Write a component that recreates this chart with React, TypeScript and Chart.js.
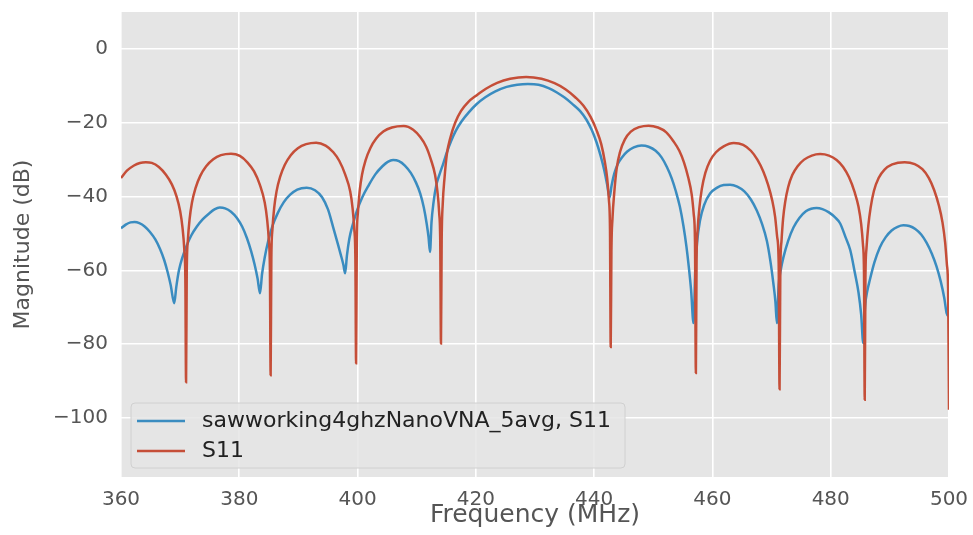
import React, { useEffect, useRef } from "react";
import { Chart, registerables } from "chart.js";

Chart.register(...registerables);

const xTicks = [360, 380, 400, 420, 440, 460, 480, 500];
const yTicks = [-100, -80, -60, -40, -20, 0];

const blueLabel = "sawworking4ghzNanoVNA_5avg, S11";
const redLabel = "S11";

// measured trace (blue)
const blueFreq = [
  360.0, 360.8, 361.6, 362.3, 363.1, 364.0, 364.9, 365.8, 366.6, 367.3, 367.9, 368.4, 369.0,
  369.35, 369.8, 370.4, 371.1, 371.9, 372.8, 373.8, 374.9, 375.8, 376.7, 377.6, 378.6, 379.6, 380.5, 381.3, 382.0, 382.6, 383.1, 383.5,
  383.85, 384.3, 384.9, 385.6, 386.5, 387.5, 388.6, 389.8, 391.4, 392.8, 394.0, 395.0, 395.9, 396.6, 397.2, 397.6, 397.9,
  398.2, 398.6, 399.2, 399.9, 400.8, 401.9, 403.0, 404.2, 405.1, 406.0, 407.0, 408.0, 409.0, 409.9, 410.6, 411.2, 411.7, 412.0, 412.25,
  412.5, 412.85, 413.3, 413.9, 414.5, 415.1, 415.8, 416.6, 417.6, 418.8, 420.1, 421.6, 423.3, 425.2, 427.0, 428.8, 430.6, 432.3, 433.7, 435.0, 436.3, 437.6, 438.7, 439.6, 440.4, 441.1, 441.7, 442.2, 442.6,
  442.95, 443.4, 444.0, 444.7, 445.6, 446.7, 448.0, 449.2, 450.4, 451.4, 452.3, 453.1, 453.8, 454.5, 455.1, 455.6, 456.0, 456.4, 456.8,
  457.1, 457.4, 457.9, 458.6, 459.6, 460.8, 461.9, 463.0, 464.2, 465.4, 466.5, 467.5, 468.4, 469.2, 469.8, 470.3, 470.65, 470.9,
  471.2, 471.6, 472.0, 472.8, 473.7, 474.7, 475.8, 476.7, 477.6, 478.6, 479.7, 480.7, 481.6, 482.5, 483.3, 484.1, 484.7, 485.15, 485.5,
  485.8, 486.2, 486.6, 487.4, 488.3, 489.3, 490.3, 491.3, 492.3, 493.3, 494.3, 495.3, 496.2, 497.1, 497.9, 498.6, 499.2, 499.6, 500.0,
];
const blueMag = [
  -48.6, -47.6, -47.0, -46.9, -47.2, -48.1, -49.6, -51.6, -54.2, -57.2, -60.6, -64.0, -68.9,
  -64.5, -60.0, -56.4, -53.3, -50.5, -48.2, -46.2, -44.6, -43.5, -43.0, -43.2, -44.1, -45.8, -48.2, -51.3, -54.8, -58.5, -62.3, -66.2,
  -61.0, -56.5, -52.0, -48.0, -44.5, -41.6, -39.5, -38.1, -37.6, -38.3, -40.2, -43.5, -48.5, -52.5, -56.0, -58.5, -60.8,
  -56.0, -51.5, -47.5, -43.8, -40.2, -36.9, -34.0, -31.8, -30.6, -30.1, -30.4, -31.6, -33.6, -36.3, -39.2, -43.0, -47.5, -51.0, -55.0,
  -47.0, -41.5, -37.0, -33.8, -31.0, -28.0, -25.0, -22.2, -19.6, -17.2, -15.0, -13.1, -11.5, -10.3, -9.7, -9.5, -9.7, -10.6, -11.8, -13.2, -14.9, -16.8, -19.2, -22.0, -25.3, -29.0, -32.8, -36.8, -40.3,
  -37.0, -33.8, -31.2, -29.4, -27.8, -26.7, -26.2, -26.5, -27.6, -29.4, -32.0, -35.0, -38.5, -42.8, -48.0, -53.5, -59.0, -65.5, -74.3,
  -60.0, -52.5, -46.5, -42.3, -39.2, -37.6, -36.9, -36.8, -37.3, -38.6, -40.8, -43.8, -47.5, -52.0, -57.5, -63.5, -68.5, -74.3,
  -64.0, -59.5, -56.5, -52.0, -48.4, -45.8, -44.0, -43.3, -43.1, -43.4, -44.3, -45.6, -47.3, -51.0, -54.5, -60.8, -66.0, -72.0, -79.7,
  -70.0, -65.5, -62.7, -57.8, -53.8, -51.0, -49.2, -48.2, -47.8, -48.0, -48.8, -50.3, -52.5, -55.5, -59.0, -63.0, -67.5, -71.6, -72.5,
];

// simulated trace (red)
const redFreq = [
  360.0, 361.0, 362.2, 363.2, 364.2, 365.2, 366.4, 367.6, 368.6, 369.4, 370.0, 370.4, 370.7, 370.88, 371.0,
  371.12, 371.3, 371.6, 372.0, 372.6, 373.4, 374.4, 375.6, 376.9, 378.6, 380.1, 381.4, 382.5, 383.5, 384.3, 384.7, 385.0, 385.18, 385.3,
  385.42, 385.6, 385.9, 386.3, 386.9, 387.7, 388.7, 389.9, 391.3, 393.0, 394.6, 395.9, 396.9, 397.9, 398.75, 399.15, 399.45, 399.63, 399.75,
  399.87, 400.05, 400.35, 400.75, 401.35, 402.15, 403.15, 404.35, 405.8, 407.8, 409.4, 410.6, 411.6, 412.4, 413.1, 413.5, 413.8, 413.98, 414.1,
  414.22, 414.4, 414.7, 415.1, 415.7, 416.5, 417.5, 418.7, 420.1, 421.7, 423.6, 425.8, 428.5, 431.1, 433.3, 435.2, 436.8, 438.2, 439.4, 440.4, 441.2, 441.8, 442.2, 442.5, 442.68, 442.8,
  442.92, 443.1, 443.4, 443.8, 444.4, 445.2, 446.2, 447.6, 449.2, 450.8, 452.2, 453.4, 454.4, 455.2, 455.9, 456.5, 456.85, 457.05, 457.2,
  457.32, 457.5, 457.8, 458.2, 458.8, 459.6, 460.6, 461.9, 463.6, 465.2, 466.5, 467.6, 468.6, 469.4, 470.1, 470.6, 470.95, 471.2, 471.35,
  471.48, 471.68, 471.95, 472.3, 472.8, 473.5, 474.4, 475.5, 476.8, 478.2, 479.7, 481.0, 482.1, 483.1, 484.0, 484.7, 485.15, 485.45, 485.63, 485.75,
  485.87, 486.05, 486.35, 486.75, 487.3, 488.1, 489.1, 490.4, 492.5, 494.2, 495.5, 496.6, 497.5, 498.3, 498.9, 499.35, 499.65, 499.85, 500.0,
];
const redMag = [
  -35.0, -33.0, -31.6, -30.9, -30.7, -30.9, -32.0, -34.1, -36.7, -40.0, -43.9, -48.4, -54.3, -62.3, -90.3,
  -60.0, -52.0, -46.1, -41.6, -37.7, -34.4, -31.8, -29.9, -28.8, -28.4, -29.0, -30.8, -33.2, -36.9, -41.6, -46.1, -52.0, -60.0, -88.4,
  -57.0, -49.0, -43.1, -38.6, -34.7, -31.4, -28.8, -26.9, -25.8, -25.4, -26.2, -28.0, -30.3, -34.0, -38.6, -43.1, -49.0, -57.0, -85.2,
  -52.5, -44.5, -38.6, -34.1, -30.2, -26.9, -24.3, -22.4, -21.3, -20.9, -21.9, -23.9, -26.5, -30.0, -34.1, -38.6, -44.5, -52.5, -79.8,
  -52.0, -42.0, -35.0, -28.5, -24.0, -20.0, -16.8, -14.4, -12.6, -10.8, -9.2, -8.1, -7.6, -8.1, -9.3, -11.0, -13.1, -15.4, -18.4, -22.0, -25.8, -30.5, -35.0, -41.0, -49.0, -80.8,
  -55.0, -46.0, -39.0, -32.5, -27.8, -24.5, -22.4, -21.2, -20.8, -21.3, -22.6, -25.0, -27.6, -30.8, -34.8, -39.5, -45.0, -52.0, -87.8,
  -57.0, -49.0, -43.0, -38.0, -33.6, -30.3, -28.0, -26.4, -25.5, -26.0, -27.6, -30.0, -33.2, -36.8, -41.0, -45.5, -51.0, -58.0, -92.2,
  -60.0, -52.0, -46.0, -41.5, -37.5, -34.2, -31.8, -30.0, -28.9, -28.5, -28.9, -30.1, -32.0, -34.8, -38.6, -42.8, -47.5, -53.0, -61.0, -95.1,
  -62.0, -54.0, -48.0, -43.0, -38.5, -35.0, -32.7, -31.3, -30.7, -31.2, -32.6, -35.0, -38.3, -42.5, -47.0, -52.5, -58.5, -65.0, -97.8,
];

const BLUE = "#3A8CC0";
const RED = "#C54E38";
const FONT = "'DejaVu Sans', sans-serif";

const fmt = (v: number) => (v < 0 ? "\u2212" + Math.abs(v) : String(v));

const bgPlugin = {
  id: "plotBg",
  beforeDraw(chart: any) {
    const { ctx, chartArea } = chart;
    ctx.save();
    ctx.fillStyle = "#E5E5E5";
    ctx.fillRect(chartArea.left, chartArea.top, chartArea.right - chartArea.left, chartArea.bottom - chartArea.top);
    ctx.restore();
  },
};

const legendPlugin = {
  id: "innerLegend",
  afterDraw(chart: any) {
    const { ctx, chartArea } = chart;
    const x0 = chartArea.left + 10;
    const y0 = chartArea.bottom - 74;
    const w = 494;
    const h = 65;
    const r = 4;
    ctx.save();
    ctx.beginPath();
    ctx.moveTo(x0 + r, y0);
    ctx.lineTo(x0 + w - r, y0);
    ctx.quadraticCurveTo(x0 + w, y0, x0 + w, y0 + r);
    ctx.lineTo(x0 + w, y0 + h - r);
    ctx.quadraticCurveTo(x0 + w, y0 + h, x0 + w - r, y0 + h);
    ctx.lineTo(x0 + r, y0 + h);
    ctx.quadraticCurveTo(x0, y0 + h, x0, y0 + h - r);
    ctx.lineTo(x0, y0 + r);
    ctx.quadraticCurveTo(x0, y0, x0 + r, y0);
    ctx.closePath();
    ctx.fillStyle = "rgba(229,229,229,0.85)";
    ctx.fill();
    ctx.strokeStyle = "#D0D0D0";
    ctx.lineWidth = 1;
    ctx.stroke();
    ctx.font = `22px ${FONT}`;
    ctx.textBaseline = "middle";
    ctx.textAlign = "left";
    chart.data.datasets.forEach((ds: any, i: number) => {
      const yy = y0 + 18 + i * 30;
      ctx.beginPath();
      ctx.moveTo(x0 + 6, yy);
      ctx.lineTo(x0 + 54, yy);
      ctx.strokeStyle = ds.borderColor;
      ctx.lineWidth = 2.5;
      ctx.stroke();
      ctx.fillStyle = "#222";
      ctx.fillText(ds.label, x0 + 71, yy);
    });
    ctx.restore();
  },
};

export default function App() {
  const ref = useRef<HTMLCanvasElement | null>(null);
  useEffect(() => {
    if (!ref.current) return;
    const chart = new Chart(ref.current, {
      type: "line",
      data: {
        datasets: [
          {
            label: blueLabel,
            data: blueFreq.map((f, i) => ({ x: f, y: blueMag[i] })),
            borderColor: BLUE,
            borderWidth: 2.5,
            pointRadius: 0,
            cubicInterpolationMode: "monotone",
            order: 1,
          },
          {
            label: redLabel,
            data: redFreq.map((f, i) => ({ x: f, y: redMag[i] })),
            borderColor: RED,
            borderWidth: 2.5,
            pointRadius: 0,
            cubicInterpolationMode: "monotone",
            order: 0,
          },
        ],
      },
      options: {
        animation: false,
        responsive: false,
        devicePixelRatio: 1,
        layout: { padding: { top: 12, right: 24, left: 0, bottom: 0 } },
        plugins: { legend: { display: false }, tooltip: { enabled: false } },
        scales: {
          x: {
            type: "linear",
            min: 360,
            max: 500,
            afterBuildTicks: (s: any) => {
              s.ticks = xTicks.map((v) => ({ value: v }));
            },
            afterFit: (s: any) => {
              s.height = 58;
              s.paddingLeft = 0;
              s.paddingRight = 0;
            },
            ticks: {
              color: "#555",
              font: { family: FONT, size: 20 },
              padding: 11,
              maxRotation: 0,
              autoSkip: false,
              callback: (v: any) => fmt(Number(v)),
            },
            grid: { color: "#FFFFFF", lineWidth: 1.6, drawTicks: false },
            border: { display: false },
            title: {
              display: true,
              text: "Frequency (MHz)",
              color: "#555",
              font: { family: FONT, size: 25, lineHeight: 1.2 },
              padding: { top: 0, bottom: 5 },
            },
          },
          y: {
            type: "linear",
            min: -116,
            max: 10,
            afterBuildTicks: (s: any) => {
              s.ticks = yTicks.map((v) => ({ value: v }));
            },
            afterFit: (s: any) => {
              s.width = 121;
              s.paddingTop = 0;
              s.paddingBottom = 0;
            },
            ticks: {
              color: "#555",
              font: { family: FONT, size: 20 },
              padding: 13,
              autoSkip: false,
              callback: (v: any) => fmt(Number(v)),
            },
            grid: { color: "#FFFFFF", lineWidth: 1.6, drawTicks: false },
            border: { display: false },
            title: {
              display: true,
              text: "Magnitude (dB)",
              color: "#555",
              font: { family: FONT, size: 22, lineHeight: 1.2 },
              padding: { top: 10, bottom: 0 },
            },
          },
        },
      } as any,
      plugins: [bgPlugin, legendPlugin],
    });
    return () => chart.destroy();
  }, []);
  return (
    <div style={{ position: "fixed", left: 0, top: 0, width: 973, height: 535, background: "#fff" }}>
      <canvas ref={ref} width={973} height={535} style={{ display: "block" }} />
    </div>
  );
}
